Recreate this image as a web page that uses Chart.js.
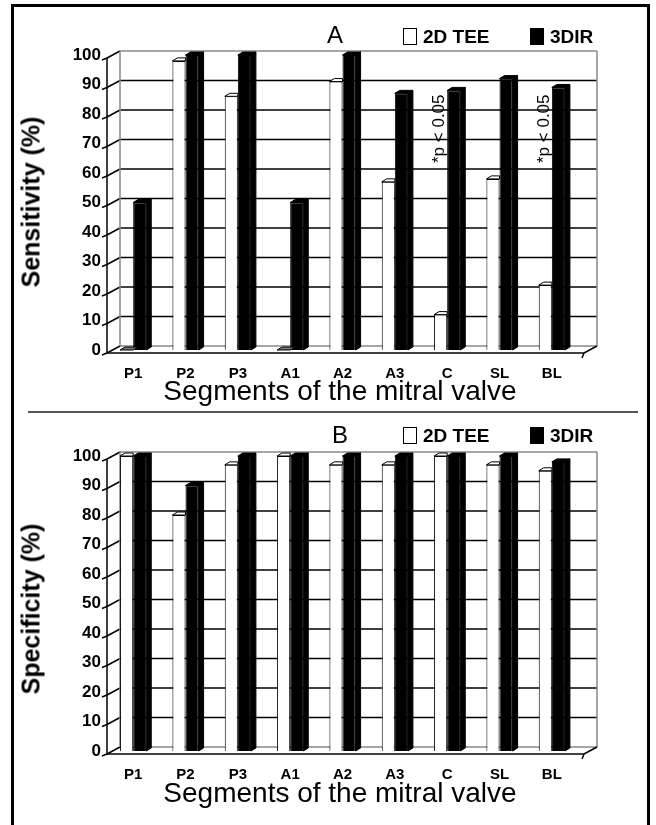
<!DOCTYPE html>
<html>
<head>
<meta charset="utf-8">
<script src="https://cdn.jsdelivr.net/npm/chart.js@4"></script>
<style>
body { margin: 0; background: #fff; font-family: "Liberation Sans", Arial, sans-serif; }
#frame { position: absolute; left: 11px; top: 4px; width: 639px; height: 850px; border: 3px solid #000; box-sizing: border-box; }
#sep { position: absolute; left: 28px; top: 411px; width: 610px; height: 2px; background: #555; }
.panel { position: absolute; left: 0; width: 656px; height: 407px; }
.panel canvas { position: absolute; left: 0; top: 0; }
.t { position: absolute; transform: translate(-50%, -50%); white-space: nowrap; color: #000; }
.letter { font-size: 24px; }
.lg { font-size: 19px; font-weight: bold; transform: translate(0, -50%); }
.box { position: absolute; width: 14px; height: 17px; border: 1px solid #000; box-sizing: border-box; }
.ytitle { font-size: 25px; font-weight: bold; transform: translate(-50%, -50%) rotate(-90deg); }
.xtitle { font-size: 28px; }
</style>
</head>
<body>
<div id="frame"></div>
<div id="sep"></div>

<div class="panel" id="panelA" style="top:0">
  <canvas id="chartA" width="656" height="407"></canvas>
  <div class="t letter" style="left:335px;top:35px">A</div>
  <div class="box" style="left:403px;top:28px;background:#fff"></div>
  <div class="t lg" style="left:423px;top:37px">2D TEE</div>
  <div class="box" style="left:530px;top:28px;background:#000"></div>
  <div class="t lg" style="left:550px;top:37px">3DIR</div>
  <div class="t ytitle" style="left:31px;top:202px">Sensitivity (%)</div>
  <div class="t xtitle" style="left:340px;top:391px">Segments of the mitral valve</div>
</div>

<div class="panel" id="panelB" style="top:401px">
  <canvas id="chartB" width="656" height="407"></canvas>
  <div class="t letter" style="left:340px;top:34px">B</div>
  <div class="box" style="left:403px;top:26px;background:#fff"></div>
  <div class="t lg" style="left:423px;top:35px">2D TEE</div>
  <div class="box" style="left:530px;top:26px;background:#000"></div>
  <div class="t lg" style="left:550px;top:35px">3DIR</div>
  <div class="t ytitle" style="left:31px;top:208px">Specificity (%)</div>
  <div class="t xtitle" style="left:340px;top:392px">Segments of the mitral valve</div>
</div>

<script>
// data
const segments = ['P1', 'P2', 'P3', 'A1', 'A2', 'A3', 'C', 'SL', 'BL'];
const sens2D = [0, 98, 86, 0, 91, 57, 12, 58, 22];
const sens3DIR = [50, 100, 100, 50, 100, 87, 88, 92, 89];
const spec2D = [100, 80, 97, 100, 97, 97, 100, 97, 95];
const spec3DIR = [100, 90, 100, 100, 100, 100, 100, 100, 98];
const yTicks = [0, 10, 20, 30, 40, 50, 60, 70, 80, 90, 100];
const sensNotes = ['C', 'BL'];
const noteText = '*p < 0.05';

// 3d look
const DX = 13, DY = 7, FRONT = 3;
const BAR_DX = 5, BAR_DY = 3;

function line(ctx, x1, y1, x2, y2) {
    ctx.beginPath();
    ctx.moveTo(x1, y1);
    ctx.lineTo(x2, y2);
    ctx.stroke();
}

function poly(ctx, pts) {
    ctx.beginPath();
    ctx.moveTo(pts[0][0], pts[0][1]);
    for (let i = 1; i < pts.length; i++) ctx.lineTo(pts[i][0], pts[i][1]);
    ctx.closePath();
    ctx.fill();
    ctx.stroke();
}

const walls = {
    id: 'walls',
    beforeDatasetsDraw(chart) {
        const ctx = chart.ctx, y = chart.scales.y, a = chart.chartArea;
        const L = a.left, R = a.right + 6;
        const top = y.getPixelForValue(100) + FRONT;
        const bot = y.getPixelForValue(0) + FRONT;
        ctx.save();
        ctx.lineWidth = 1.5;
        yTicks.forEach(v => {
            const yf = y.getPixelForValue(v) + FRONT;
            ctx.strokeStyle = (v === 100 || v === 0) ? '#888' : '#000';
            line(ctx, L + DX, yf - DY, R + DX, yf - DY);
            ctx.strokeStyle = '#000';
            line(ctx, L, yf, L + DX, yf - DY);
            line(ctx, L - 5, yf + 2, L, yf);
        });
        ctx.strokeStyle = '#888';
        line(ctx, L + DX, top - DY, L + DX, bot - DY);
        line(ctx, R + DX, top - DY, R + DX, bot - DY);
        ctx.strokeStyle = '#000';
        line(ctx, L, top, L, bot);
        line(ctx, L, bot, R, bot);
        line(ctx, R, bot, R + DX, bot - DY);
        line(ctx, R, bot, R - 2, bot + 5);
        ctx.restore();
    }
};

// top and side faces, white series first so the black bars cover it
const faces = {
    id: 'faces',
    afterDatasetsDraw(chart) {
        const ctx = chart.ctx;
        ctx.save();
        ctx.lineWidth = 1;
        ctx.strokeStyle = '#000';
        chart.data.datasets.forEach((ds, i) => {
            const hidden = i === 0; // white side is behind the black bar
            chart.getDatasetMeta(i).data.forEach(bar => {
                const p = bar.getProps(['x', 'y', 'base', 'width'], true);
                const l = p.x - p.width / 2, r = p.x + p.width / 2;
                const flat = p.base - p.y < 1;
                ctx.fillStyle = flat ? '#777' : ds.backgroundColor;
                if (hidden && !flat) {
                    poly(ctx, [[l, p.y], [l + BAR_DX, p.y - BAR_DY], [r, p.y - BAR_DY], [r, p.y]]);
                } else {
                    poly(ctx, [[l, p.y], [l + BAR_DX, p.y - BAR_DY], [r + BAR_DX, p.y - BAR_DY], [r, p.y]]);
                }
                if (!flat && !hidden) {
                    poly(ctx, [[r, p.y], [r + BAR_DX, p.y - BAR_DY], [r + BAR_DX, p.base - BAR_DY], [r, p.base]]);
                }
            });
        });
        ctx.restore();
    }
};

const notes = {
    id: 'notes',
    afterDatasetsDraw(chart, args, opts) {
        const ctx = chart.ctx;
        const at = opts.at || [];
        ctx.save();
        ctx.fillStyle = '#000';
        ctx.font = '17px "Liberation Sans", Arial, sans-serif';
        ctx.textAlign = 'center';
        ctx.textBaseline = 'middle';
        at.forEach(cat => {
            const bar = chart.getDatasetMeta(0).data[segments.indexOf(cat)];
            const yc = chart.scales.y.getPixelForValue(75);
            ctx.save();
            ctx.translate(bar.x - 1, yc);
            ctx.rotate(-Math.PI / 2);
            ctx.fillText(noteText, 0, 0);
            ctx.restore();
        });
        ctx.restore();
    }
};

function makeChart(id, d2, d3, noteAt) {
    return new Chart(document.getElementById(id), {
        type: 'bar',
        data: {
            labels: segments,
            datasets: [
                {
                    label: '2D TEE',
                    data: d2,
                    backgroundColor: '#fff',
                    borderColor: '#000',
                    borderWidth: 1
                },
                {
                    label: '3DIR',
                    data: d3,
                    backgroundColor: '#000',
                    borderColor: '#000',
                    borderWidth: 1
                }
            ]
        },
        options: {
            responsive: false,
            animation: false,
            categoryPercentage: 0.5,
            barPercentage: 1,
            layout: { padding: { left: 0, right: 78, top: 55, bottom: 0 } },
            plugins: {
                legend: { display: false },
                tooltip: { enabled: false },
                notes: { at: noteAt }
            },
            scales: {
                x: {
                    grid: { display: false, drawTicks: false },
                    border: { display: false },
                    ticks: {
                        color: '#000',
                        padding: 15,
                        maxRotation: 0,
                        autoSkip: false,
                        font: { family: '"Liberation Sans", Arial, sans-serif', size: 15, weight: 'bold' }
                    },
                    afterFit(scale) { scale.height = 57; }
                },
                y: {
                    min: 0,
                    max: 100,
                    grid: { display: false, drawTicks: false },
                    border: { display: false },
                    ticks: {
                        stepSize: 10,
                        color: '#000',
                        padding: 6,
                        font: { family: '"Liberation Sans", Arial, sans-serif', size: 17, weight: 'bold' }
                    },
                    afterFit(scale) { scale.width = 107; }
                }
            }
        },
        plugins: [walls, faces, notes]
    });
}

makeChart('chartA', sens2D, sens3DIR, sensNotes);
makeChart('chartB', spec2D, spec3DIR, []);
</script>
</body>
</html>
